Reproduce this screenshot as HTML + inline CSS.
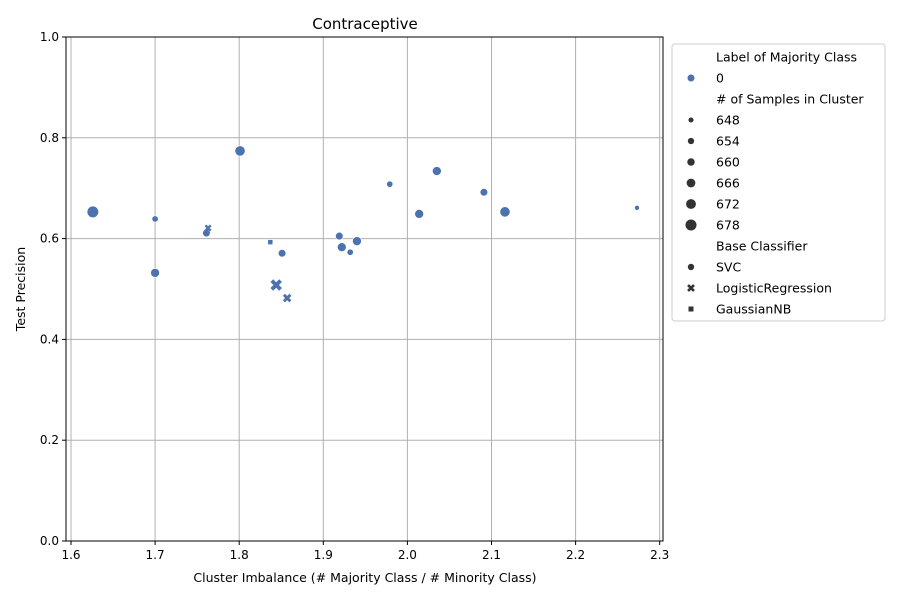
<!DOCTYPE html>
<html><head><meta charset="utf-8"><style>
body{margin:0;background:#fff;font-family:"Liberation Sans","DejaVu Sans",sans-serif;}
svg text{font-family:"DejaVu Sans","Liberation Sans",sans-serif;}
</style></head><body>
<svg id="chart" width="900" height="600" xmlns="http://www.w3.org/2000/svg">
<rect width="900" height="600" fill="#fff"/>
<g id="grid"></g>
<g id="axes"></g>
<g id="marks"></g>
<text x="365" y="29" text-anchor="middle" font-size="15">Contraceptive</text>
<text x="365" y="582" text-anchor="middle" font-size="12.5">Cluster Imbalance (# Majority Class / # Minority Class)</text>
<text transform="translate(25,289) rotate(-90)" text-anchor="middle" font-size="12.5">Test Precision</text>
<g id="legend"></g>
</svg>
<script>
const xVals=[1.626,1.700,1.700,1.761,1.763,1.801,1.837,1.851,1.844,1.857,1.919,1.922,1.932,1.940,1.979,2.014,2.035,2.091,2.116,2.273];
const yVals=[0.653,0.639,0.532,0.611,0.621,0.774,0.593,0.571,0.508,0.482,0.605,0.583,0.573,0.595,0.708,0.649,0.734,0.692,0.653,0.661];
const sizes=[678,654,666,660,654,672,654,660,672,660,660,666,654,666,654,666,666,660,672,648];
const classifiers=["SVC","SVC","SVC","SVC","LogisticRegression","SVC","GaussianNB","SVC","LogisticRegression","LogisticRegression","SVC","SVC","SVC","SVC","SVC","SVC","SVC","SVC","SVC","SVC"];
const xTicks=[1.6,1.7,1.8,1.9,2.0,2.1,2.2,2.3];
const yTicks=[0.0,0.2,0.4,0.6,0.8,1.0];
const sizeLegend=[648,654,660,666,672,678];
const classLegend=["SVC","LogisticRegression","GaussianNB"];
const NS="http://www.w3.org/2000/svg";
const L=66,R=663,T=37,B=541;
const xs=v=>71+(v-1.6)*841;
const ys=v=>B-v*504;
const rs=s=>2.5+(s-648)*0.11;
const C="#4c72b0";
function mk(tag,attrs,parent){const e=document.createElementNS(NS,tag);for(const k in attrs)e.setAttribute(k,attrs[k]);parent.appendChild(e);return e;}
const grid=document.getElementById('grid'),axes=document.getElementById('axes'),marks=document.getElementById('marks'),leg=document.getElementById('legend');
xTicks.forEach(t=>{const x=xs(t);
 const g=mk('line',{x1:x,x2:x,y1:T,y2:B,stroke:'#b0b0b0','stroke-width':1},grid);
 
 
 mk('line',{x1:x,x2:x,y1:B,y2:B+4,stroke:'#000'},axes);
 const tx=mk('text',{x:x,y:B+18,'text-anchor':'middle','font-size':12},axes);tx.textContent=t.toFixed(1);
 
 });
yTicks.forEach(t=>{const y=ys(t);
 const g=mk('line',{x1:L,x2:R,y1:y,y2:y,stroke:'#b0b0b0','stroke-width':1},grid);
 
 
 mk('line',{x1:L-4,x2:L,y1:y,y2:y,stroke:'#000'},axes);
 const tx=mk('text',{x:L-7,y:y+4,'text-anchor':'end','font-size':12},axes);tx.textContent=t.toFixed(1);
 
 });
const fr=mk('rect',{x:L,y:T,width:R-L,height:B-T,fill:'none',stroke:'#000','stroke-width':1},axes);


function marker(kind,cx,cy,r,parent,fill){
 let e;
 if(kind==="SVC"){e=mk('circle',{cx:cx,cy:cy,r:r,fill:fill,stroke:'#fff','stroke-width':0.6},parent);}
 else if(kind==="GaussianNB"){const s=r*1.6;e=mk('rect',{x:cx-s/2,y:cy-s/2,width:s,height:s,fill:fill,stroke:'#fff','stroke-width':0.6},parent);}
 else{const d=r*0.85;e=mk('path',{d:`M${cx-d},${cy-d}L${cx+d},${cy+d}M${cx-d},${cy+d}L${cx+d},${cy-d}`,stroke:fill,'stroke-width':r*0.75,'stroke-linecap':'butt',fill:'none'},parent);}
 return e;}
xVals.forEach((v,i)=>{const e=marker(classifiers[i],xs(v),ys(yVals[i]),rs(sizes[i]),marks,C);
 
 });
const lb=mk('rect',{x:672,y:44,width:213,height:277,rx:3,fill:'#fff',stroke:'#ccc'},leg);


function ltext(s,y){const t=mk('text',{x:716,y:y+4.5,'font-size':12.5},leg);t.textContent=s;
 
 }
let y=57;
ltext("Label of Majority Class",y);y+=21;
mk('circle',{cx:691,cy:y,r:3.5,fill:C},leg);ltext("0",y);y+=21;
ltext("# of Samples in Cluster",y);y+=21;
sizeLegend.forEach(s=>{mk('circle',{cx:691,cy:y,r:rs(s)*0.9+0.3,fill:'#333'},leg);ltext(String(s),y);y+=21;});
ltext("Base Classifier",y);y+=21;
classLegend.forEach(c=>{marker(c,691,y,3.5,leg,'#333');ltext(c,y);y+=21;});
</script>
</body></html>
